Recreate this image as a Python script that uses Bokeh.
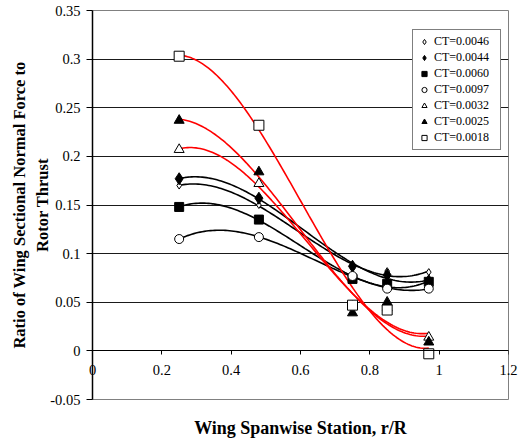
import numpy as np
from bokeh.plotting import figure
from bokeh.models import (Range1d, LinearAxis, FixedTicker, Legend, LegendItem)
from bokeh.embed import file_html
from bokeh.resources import INLINE

# ---- data ----
stations = [0.25, 0.48, 0.75, 0.85, 0.97]
series_names = ["CT=0.0046", "CT=0.0044", "CT=0.0060", "CT=0.0097",
                "CT=0.0032", "CT=0.0025", "CT=0.0018"]
ct_0046 = [0.170, 0.150, 0.085, 0.082, 0.081]
ct_0044 = [0.177, 0.157, 0.087, 0.078, 0.072]
ct_0060 = [0.148, 0.135, 0.074, 0.069, 0.071]
ct_0097 = [0.115, 0.117, 0.077, 0.064, 0.064]
ct_0032 = [0.207, 0.172, 0.046, 0.044, 0.014]
ct_0025 = [0.237, 0.184, 0.039, 0.050, 0.009]
ct_0018 = [0.303, 0.232, 0.047, 0.042, -0.003]
x_ticks = [0, 0.2, 0.4, 0.6, 0.8, 1.0, 1.2]
x_tick_labels = ["0", "0.2", "0.4", "0.6", "0.8", "1", "1.2"]
y_ticks = [-0.05, 0, 0.05, 0.1, 0.15, 0.2, 0.25, 0.3, 0.35]
y_tick_labels = ["-0.05", "0", "0.05", "0.1", "0.15", "0.2", "0.25", "0.3", "0.35"]

all_series = [ct_0046, ct_0044, ct_0060, ct_0097, ct_0032, ct_0025, ct_0018]
# styles: (marker, size, fill, colour of trendline)
styles = [
    ("diamond", 7, "white", "black"),
    ("diamond", 12, "black", "black"),
    ("square", 9, "black", "black"),
    ("circle", 9, "white", "black"),
    ("triangle", 10, "white", "red"),
    ("triangle", 10, "black", "red"),
    ("square", 10, "white", "red"),
]

FONT = "Liberation Serif"

p = figure(width=521, height=440, output_backend="svg", toolbar_location=None,
           x_range=Range1d(0, 1.2), y_range=Range1d(-0.05, 0.35),
           x_axis_location=None, y_axis_location="left",
           min_border_top=10, min_border_right=13, min_border_left=92,
           min_border_bottom=0)
p.background_fill_color = "white"
p.border_fill_color = "white"
p.outline_line_color = "#808080"
p.outline_line_width = 1

# y axis
ya = p.yaxis[0]
ya.ticker = FixedTicker(ticks=y_ticks)
ya.major_label_overrides = {t: l for t, l in zip(y_ticks, y_tick_labels)}
ya.minor_tick_line_color = None
ya.major_tick_out = 6
ya.major_tick_in = 0
ya.major_label_standoff = 6
ya.major_label_text_font = FONT
ya.major_label_text_font_size = "14.5px"
ya.major_label_text_color = "black"
ya.axis_line_color = "black"
ya.axis_line_width = 1.5
ya.major_tick_line_color = "black"
ya.axis_label = "Ratio of Wing Sectional Normal Force to\nRotor Thrust"
ya.axis_label_text_font = FONT
ya.axis_label_text_font_size = "16.5px"
ya.axis_label_text_font_style = "bold"
ya.axis_label_text_color = "black"
ya.axis_label_standoff = -5

# x axis line and ticks at y = 0
xa = LinearAxis(fixed_location=0, ticker=FixedTicker(ticks=x_ticks))
xa.minor_tick_line_color = None
xa.major_tick_out = 4
xa.major_tick_in = 0
xa.major_label_text_font_size = "0px"
xa.major_label_text_color = None
xa.axis_line_color = "black"
xa.axis_line_width = 1.2
p.add_layout(xa, "below")

# x tick labels: an axis below the frame whose labels are lifted up next to y = 0
xl = LinearAxis(ticker=FixedTicker(ticks=x_ticks))
xl.major_label_overrides = {t: l for t, l in zip(x_ticks, x_tick_labels)}
xl.axis_line_color = None
xl.major_tick_line_color = None
xl.minor_tick_line_color = None
xl.major_tick_out = 0
xl.major_tick_in = 0
xl.major_label_standoff = -35
xl.major_label_text_font = FONT
xl.major_label_text_font_size = "14.5px"
xl.major_label_text_color = "black"
p.add_layout(xl, "below")

# axis title below the plot area
xt = LinearAxis(ticker=FixedTicker(ticks=[]), axis_label="Wing Spanwise Station, r/R")
xt.axis_line_color = None
xt.major_tick_line_color = None
xt.minor_tick_line_color = None
xt.major_tick_out = 0
xt.major_label_standoff = 0
xt.axis_label_standoff = 18
xt.axis_label_text_font = FONT
xt.axis_label_text_font_size = "18px"
xt.axis_label_text_font_style = "bold"
xt.axis_label_text_color = "black"
p.add_layout(xt, "below")

p.xgrid.visible = False
p.ygrid.ticker = FixedTicker(ticks=y_ticks)
p.ygrid.grid_line_color = "#1a1a1a"
p.ygrid.grid_line_width = 1

# trendlines (3rd order polynomial fit of each series)
xs_fit = np.linspace(stations[0], stations[-1], 120)
for vals, (mk, sz, fill, lc) in zip(all_series, styles):
    coef = np.polyfit(stations, vals, 3)
    p.line(xs_fit, np.polyval(coef, xs_fit), line_color=lc, line_width=1.6)

items = []
for name, vals, (mk, sz, fill, lc) in zip(series_names, all_series, styles):
    r = p.scatter(stations, vals, marker=mk, size=sz, fill_color=fill,
                  line_color="black", line_width=1)
    items.append(LegendItem(label=name, renderers=[r]))

legend = Legend(items=items, location=(320, 249))
legend.label_text_font = FONT
legend.label_text_font_size = "12px"
legend.label_text_color = "black"
legend.glyph_height = 13
legend.glyph_width = 14
legend.label_height = 13
legend.label_width = 62
legend.spacing = 1
legend.padding = 4
legend.margin = 0
legend.label_standoff = 3
legend.border_line_color = "black"
legend.border_line_width = 1
legend.background_fill_color = "white"
legend.background_fill_alpha = 1
p.add_layout(legend, "center")

open("out.html", "w").write(file_html(p, INLINE))
